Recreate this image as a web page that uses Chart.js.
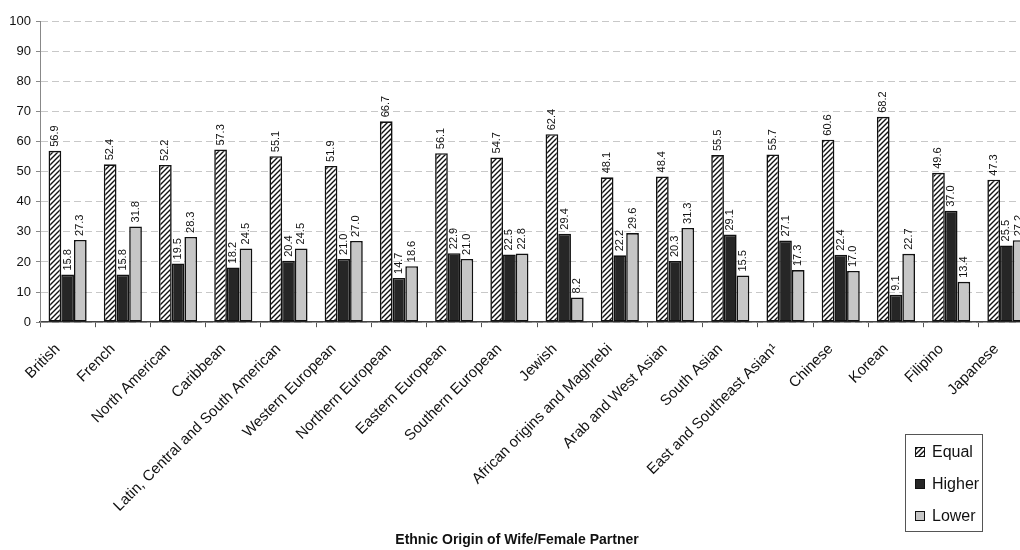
<!DOCTYPE html>
<html>
<head>
<meta charset="utf-8">
<script src="https://cdn.jsdelivr.net/npm/chart.js@4"></script>
<style>
  html, body { margin: 0; padding: 0; background: #fff; overflow: hidden; width: 1020px; height: 550px; }
  #wrap { position: absolute; left: 0; top: 0; width: 1034px; height: 550px; }
</style>
</head>
<body>
<div id="wrap"><canvas id="c" width="1034" height="550"></canvas></div>
<script>
// Ethnic origin of the wife / female partner
const categories = [
  'British', 'French', 'North American', 'Caribbean',
  'Latin, Central and South American', 'Western European', 'Northern European',
  'Eastern European', 'Southern European', 'Jewish', 'African origins and Maghrebi',
  'Arab and West Asian', 'South Asian', 'East and Southeast Asian\u00b9',
  'Chinese', 'Korean', 'Filipino', 'Japanese'
];

// Share (%) by the partner's relative level
const equalShare  = [56.9, 52.4, 52.2, 57.3, 55.1, 51.9, 66.7, 56.1, 54.7, 62.4, 48.1, 48.4, 55.5, 55.7, 60.6, 68.2, 49.6, 47.3];
const higherShare = [15.8, 15.8, 19.5, 18.2, 20.4, 21.0, 14.7, 22.9, 22.5, 29.4, 22.2, 20.3, 29.1, 27.1, 22.4,  9.1, 37.0, 25.5];
const lowerShare  = [27.3, 31.8, 28.3, 24.5, 24.5, 27.0, 18.6, 21.0, 22.8,  8.2, 29.6, 31.3, 15.5, 17.3, 17.0, 22.7, 13.4, 27.2];

const seriesNames = ['Equal', 'Higher', 'Lower'];
const yTickValues = [0, 10, 20, 30, 40, 50, 60, 70, 80, 90, 100];

const FONT = '"Liberation Sans", Arial, sans-serif';
const canvas = document.getElementById('c');
const ctx = canvas.getContext('2d');

// Diagonal "////" hatch for the Equal series
function makeHatch() {
  const s = 5;
  const t = document.createElement('canvas');
  t.width = s; t.height = s;
  const g = t.getContext('2d');
  g.fillStyle = '#ffffff';
  g.fillRect(0, 0, s, s);
  g.strokeStyle = '#111111';
  g.lineWidth = 1.4;
  g.beginPath();
  g.moveTo(0, s); g.lineTo(s, 0);
  g.moveTo(-1, 1); g.lineTo(1, -1);
  g.moveTo(s - 1, s + 1); g.lineTo(s + 1, s - 1);
  g.stroke();
  return ctx.createPattern(t, 'repeat');
}
const hatch = makeHatch();

// Vertical value labels above each bar
const valueLabels = {
  id: 'valueLabels',
  afterDatasetsDraw(chart) {
    const c = chart.ctx;
    c.save();
    c.font = '11px ' + FONT;
    c.fillStyle = '#111';
    c.textAlign = 'left';
    c.textBaseline = 'middle';
    chart.data.datasets.forEach((ds, i) => {
      const meta = chart.getDatasetMeta(i);
      meta.data.forEach((bar, j) => {
        c.save();
        c.translate(bar.x, bar.y - 4);
        c.rotate(-Math.PI / 2);
        c.fillText(ds.data[j].toFixed(1), 0, 0);
        c.restore();
      });
    });
    c.restore();
  }
};

// Boxed legend in the lower-right corner
const boxLegend = {
  id: 'boxLegend',
  afterDraw(chart) {
    const c = chart.ctx;
    const x = 905, y = 434, w = 77, h = 97;
    c.save();
    c.fillStyle = '#fff';
    c.fillRect(x, y, w, h);
    c.strokeStyle = '#555';
    c.lineWidth = 1;
    c.strokeRect(x + 0.5, y + 0.5, w, h);
    c.font = '16px ' + FONT;
    c.textAlign = 'left';
    c.textBaseline = 'middle';
    chart.data.datasets.forEach((ds, i) => {
      const cy = y + 18 + i * 32;
      c.fillStyle = ds.backgroundColor;
      c.fillRect(915, cy - 5, 10, 10);
      c.strokeStyle = '#111';
      c.lineWidth = 1;
      c.strokeRect(915.5, cy - 4.5, 9, 9);
      c.fillStyle = '#111';
      c.fillText(ds.label, 932, cy + 1);
    });
    c.restore();
  }
};

const colors = [hatch, '#262626', '#c6c6c6'];
const values = [equalShare, higherShare, lowerShare];

new Chart(canvas, {
  type: 'bar',
  data: {
    labels: categories,
    datasets: seriesNames.map((name, i) => ({
      label: name,
      data: values[i],
      backgroundColor: colors[i],
      borderColor: '#111',
      borderWidth: 1.6,
      borderSkipped: false,
      barPercentage: 1.0,
      categoryPercentage: 0.69
    }))
  },
  options: {
    responsive: false,
    animation: false,
    devicePixelRatio: 1,
    layout: { padding: { top: 21, left: 0, right: 0, bottom: 0 } },
    plugins: {
      legend: { display: false },
      tooltip: { enabled: false },
      title: {
        display: true,
        position: 'bottom',
        text: 'Ethnic Origin of Wife/Female Partner',
        color: '#111',
        font: { family: FONT, size: 14, weight: 'bold' },
        padding: { top: 0, bottom: 1 }
      }
    },
    scales: {
      x: {
        afterFit(scale) { scale.height = 210; },
        grid: {
          display: true,
          offset: true,
          drawOnChartArea: false,
          drawTicks: true,
          tickLength: 5,
          tickColor: '#555'
        },
        border: { display: true, color: '#444', width: 1.5 },
        ticks: {
          autoSkip: false,
          maxRotation: 45,
          minRotation: 45,
          padding: 13,
          labelOffset: -10,
          color: '#111',
          font: { family: FONT, size: 15 }
        }
      },
      y: {
        min: 0,
        max: 100,
        afterFit(scale) { scale.width = 40; },
        afterBuildTicks(scale) { scale.ticks = yTickValues.map(v => ({ value: v })); },
        grid: {
          color: '#c8c8c8',
          lineWidth: 1,
          drawTicks: true,
          tickLength: 4,
          tickColor: '#888'
        },
        border: { display: true, color: '#888', width: 1, dash: [7, 4] },
        ticks: {
          padding: 5,
          color: '#111',
          font: { family: FONT, size: 13 }
        }
      }
    }
  },
  plugins: [valueLabels, boxLegend]
});
</script>
</body>
</html>
